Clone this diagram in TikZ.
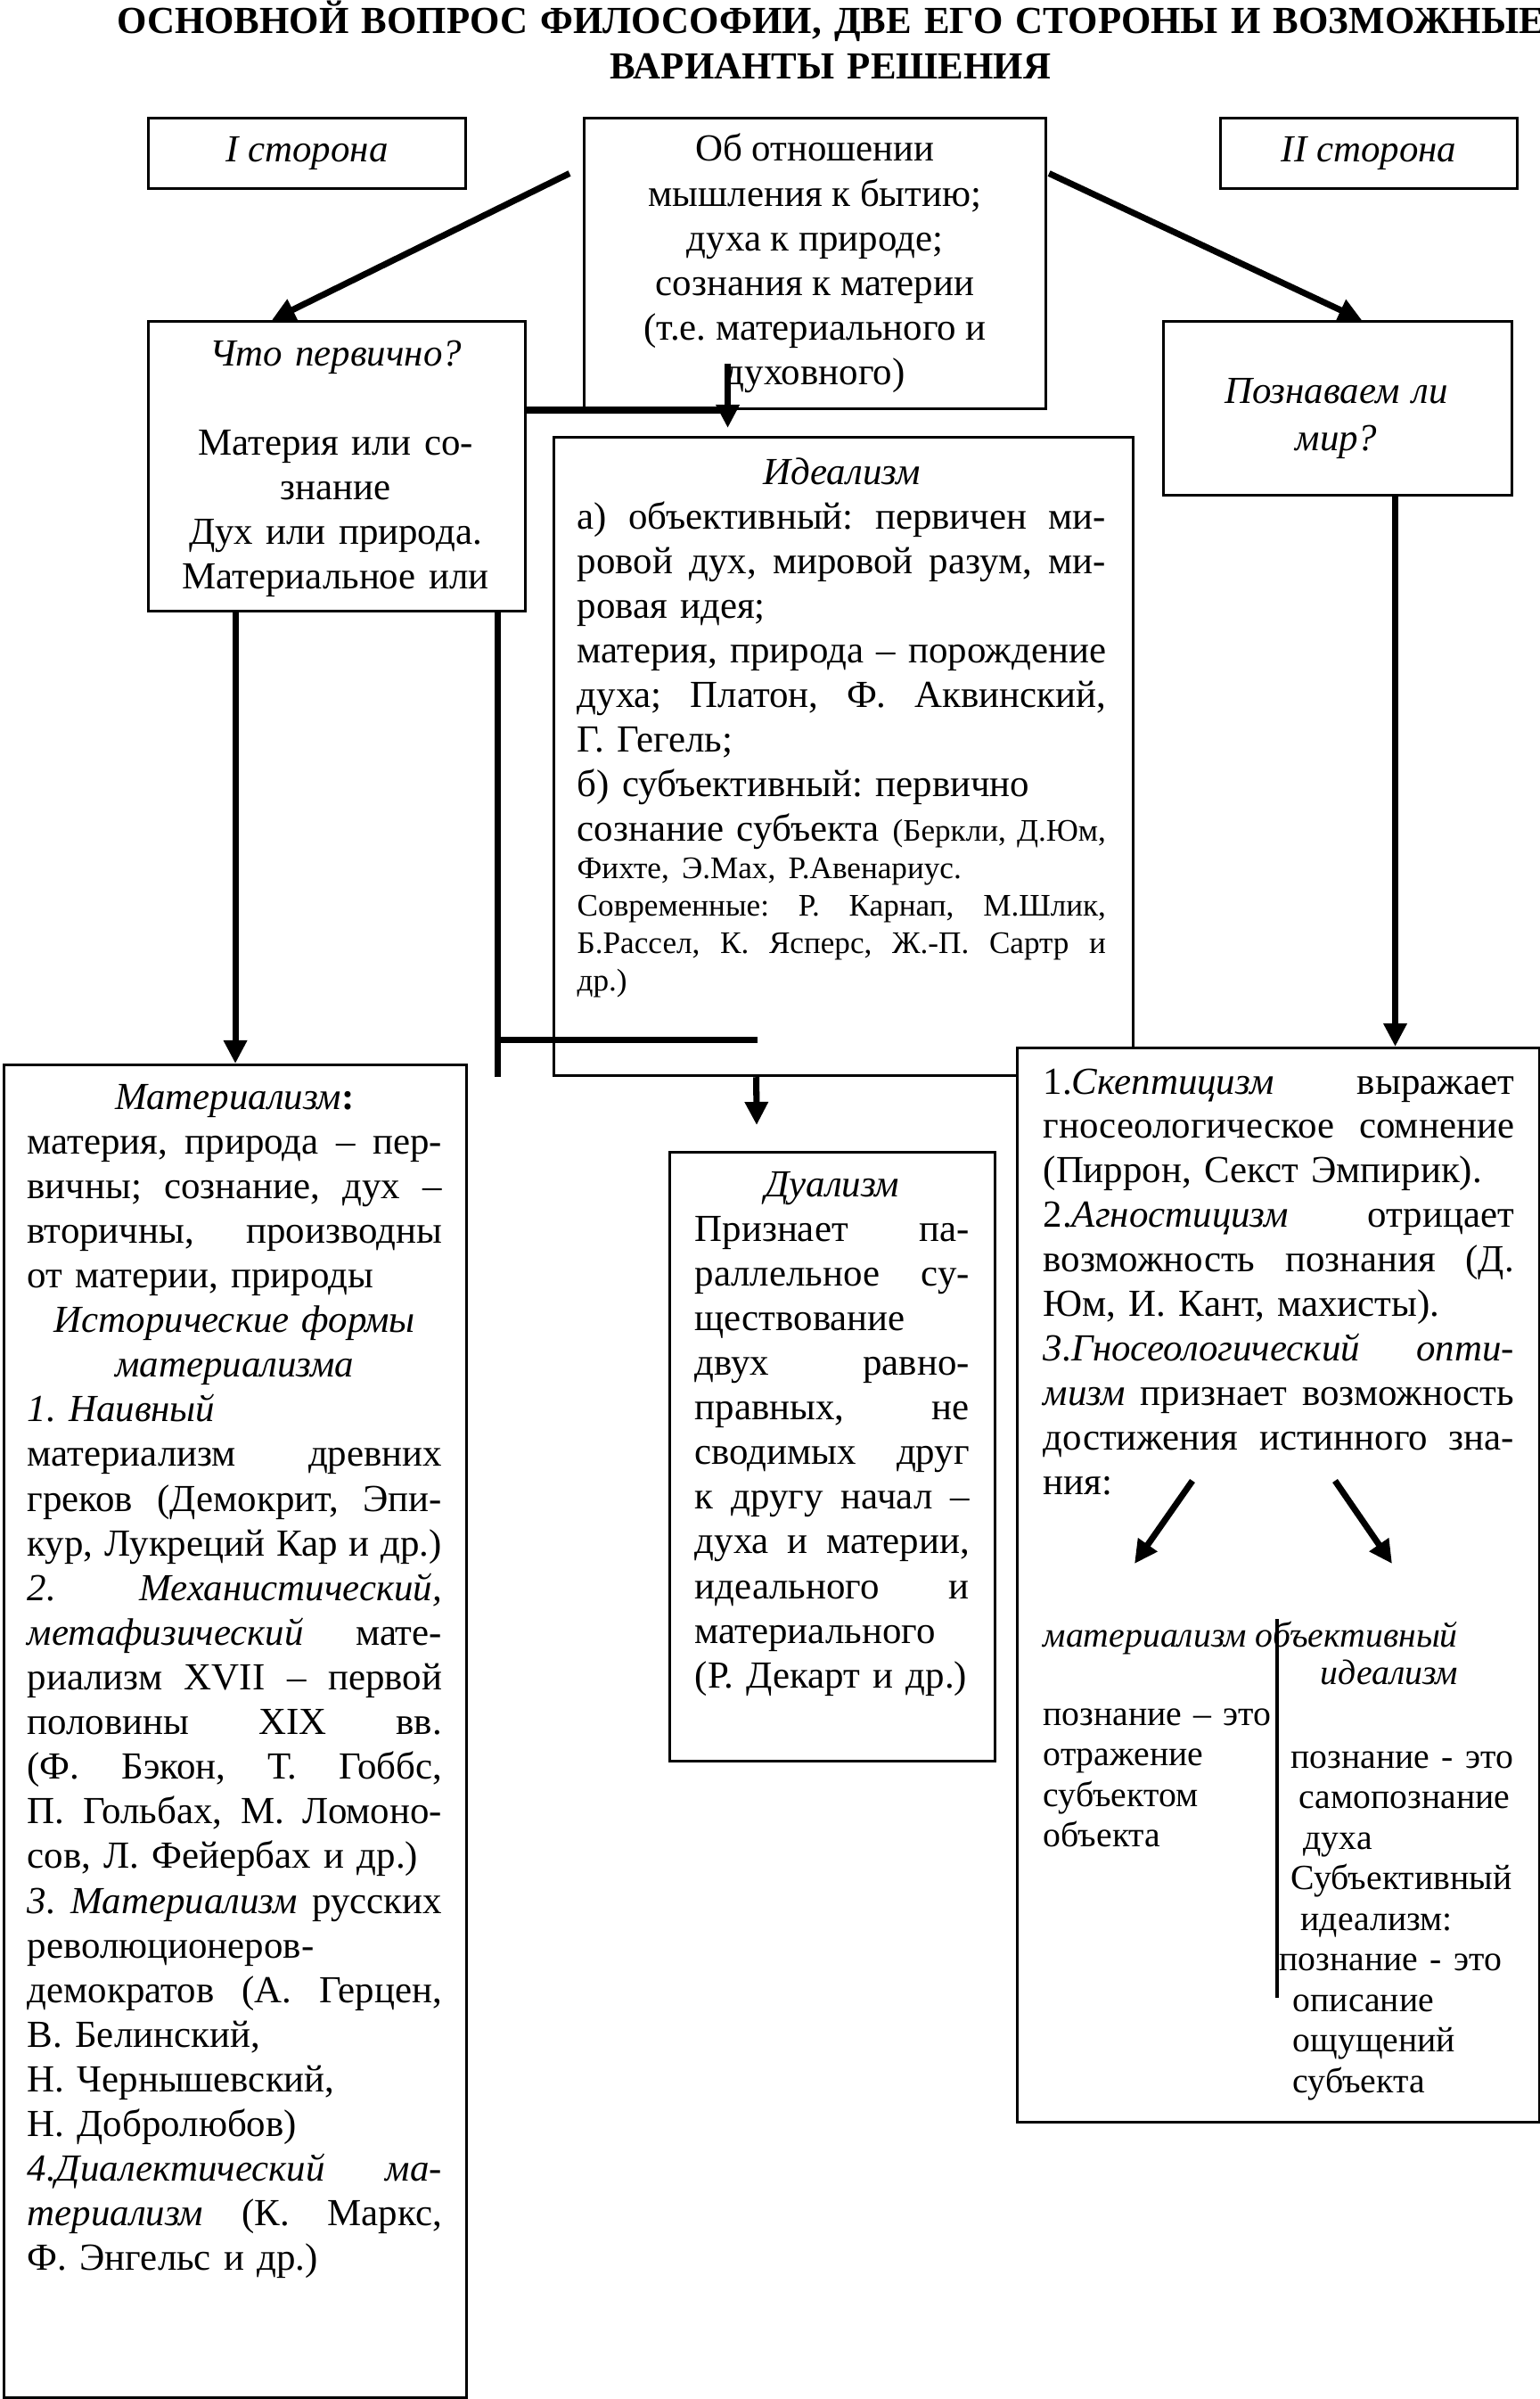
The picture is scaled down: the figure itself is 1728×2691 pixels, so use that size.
\documentclass[tikz,border=0pt]{standalone}
\usepackage{fontspec}
\setmainfont{Liberation Serif}
\usepackage{tikz}
\usetikzlibrary{arrows.meta,calc,positioning}

\newcommand{\mainsz}{\fontsize{12.2pt}{14.25pt}\selectfont}
\newcommand{\smallsz}{\fontsize{10pt}{11.9pt}\selectfont}
\newcommand{\lowsz}{\fontsize{11.3pt}{12.95pt}\selectfont}
\newcommand{\jline}[1]{\makebox[\linewidth][s]{\spaceskip=0pt\xspaceskip=0pt #1}}
\newcommand{\midline}[1]{\makebox[\linewidth]{#1}}

\begin{document}
\frenchspacing
\begin{tikzpicture}[x=0.01cm, y=-0.01cm,
  box/.style={draw, line width=0.8pt, inner sep=0pt, anchor=north west},
  txt/.style={font=\mainsz, inner sep=0pt, align=left, anchor=base west},
  word/.style={inner sep=0pt, anchor=base west},
  thickline/.style={line width=2pt},
  thickarrow/.style={line width=2pt, -{Triangle[length=0.26cm, width=0.25cm]}}]

\useasboundingbox (0,0) rectangle (1728,2691);

% Title
\node[font=\mainsz\bfseries, text width=17cm, align=center, inner sep=0pt, anchor=base] (title) at (932,38)
  {ОСНОВНОЙ ВОПРОС ФИЛОСОФИИ, ДВЕ ЕГО СТОРОНЫ И ВОЗМОЖНЫЕ\\ВАРИАНТЫ РЕШЕНИЯ};

% Draw the top row of boxes
\node[box, minimum width=3.56cm, minimum height=0.79cm, font=\mainsz\itshape] (side1) at (165,131) {I сторона};
\node[box, minimum width=5.18cm, minimum height=3.26cm, font=\mainsz, align=center] (about) at (654,131)
  {Об отношении\\мышления к бытию;\\духа к природе;\\сознания к материи\\(т.е. материального и\\духовного)};
\node[box, minimum width=3.33cm, minimum height=0.79cm, font=\mainsz\itshape] (side2) at (1368,131) {II сторона};

% Draw the two questions
\node[box, minimum width=4.23cm, minimum height=3.25cm] (primary) at (165,359) {};
\node[font=\mainsz, text width=4.1cm, align=center, inner sep=0pt, anchor=base] (primarytxt) at (376.5,410)
  {\textit{Что первично?}\\[0.5cm]Материя или со-\\знание\\Дух или природа.\\Материальное или};
\node[box, minimum width=3.91cm, minimum height=1.95cm] (knowable) at (1304,359) {};
\node[font=\mainsz\itshape, text width=3.8cm, align=center, inner sep=0pt, anchor=base] (knowtxt) at (1499.5,452)
  {Познаваем ли\\[1pt]мир?};

% Idealism
\node[box, minimum width=6.5cm, minimum height=7.16cm] (ideal) at (620,489) {};
\node[txt, text width=5.93cm] (idealtxt) at (647,543)
  {\midline{\textit{Идеализм}}\\
   \jline{а) объективный: первичен ми-}\\
   \jline{ровой дух, мировой разум, ми-}\\
   ровая идея;\\
   \jline{материя, природа – порождение}\\
   \jline{духа; Платон, Ф. Аквинский,}\\
   Г. Гегель;\\
   б) субъективный: первично\\
   \jline{сознание субъекта {\smallsz(Беркли, Д.Юм,}}\par
   {\smallsz Фихте, Э.Мах, Р.Авенариус.\\
   \jline{Современные: Р. Карнап, М.Шлик,}\\
   \jline{Б.Рассел, К. Ясперс, Ж.-П. Сартр и}\\
   др.)\par}};

% Materialism
\node[box, minimum width=5.19cm, minimum height=14.94cm] (mat) at (3,1193) {};
\node[txt, text width=4.65cm] (mattxt) at (30,1244)
  {\midline{\textit{Материализм}\textbf{:}}\\
   \jline{материя, природа – пер-}\\
   \jline{вичны; сознание, дух –}\\
   \jline{вторичны, производны}\\
   от материи, природы\\
   \midline{\textit{Исторические формы}}\\
   \midline{\textit{материализма}}\\
   \textit{1. Наивный}\\
   \jline{материализм древних}\\
   \jline{греков (Демокрит, Эпи-}\\
   \jline{кур, Лукреций Кар и др.)}\\
   \jline{\textit{2. Механистический,}}\\
   \jline{\textit{метафизический} мате-}\\
   \jline{риализм XVII – первой}\\
   \jline{половины XIX вв.}\\
   \jline{(Ф. Бэкон, Т. Гоббс,}\\
   \jline{П. Гольбах, М. Ломоно-}\\
   сов, Л. Фейербах и др.)\\
   \jline{\textit{3. Материализм} русских}\\
   революционеров-\\
   \jline{демократов (А. Герцен,}\\
   В. Белинский,\\
   Н. Чернышевский,\\
   Н. Добролюбов)\\
   \jline{\textit{4.Диалектический} \textit{ма-}}\\
   \jline{\textit{териализм} (К. Маркс,}\\
   Ф. Энгельс и др.)};

% Dualism
\node[box, minimum width=3.65cm, minimum height=6.83cm] (dual) at (750,1291) {};
\node[txt, text width=3.08cm] (dualtxt) at (779,1342)
  {\midline{\textit{Дуализм}}\\
   \jline{Признает па-}\\
   \jline{раллельное су-}\\
   ществование\\
   \jline{двух равно-}\\
   \jline{правных, не}\\
   \jline{сводимых друг}\\
   \jline{к другу начал –}\\
   \jline{духа и материи,}\\
   \jline{идеального и}\\
   материального\\
   (Р. Декарт и др.)};

% Cognition box, drawn over the corner of the idealism box
\node[box, fill=white, minimum width=5.86cm, minimum height=12.04cm] (cog) at (1140,1174) {};
\node[txt, text width=5.28cm, font=\fontsize{12.2pt}{14.2pt}\selectfont] (cogtxt) at (1170,1227)
  {\jline{1.\textit{Скептицизм} выражает}\\
   \jline{гносеологическое сомнение}\\
   (Пиррон, Секст Эмпирик).\\
   \jline{2.\textit{Агностицизм} отрицает}\\
   \jline{возможность познания (Д.}\\
   Юм, И. Кант, махисты).\\
   \jline{\textit{3.Гносеологический} \textit{опти-}}\\
   \jline{\textit{мизм} признает возможность}\\
   \jline{достижения истинного зна-}\\
   ния:};
\node[word, font=\lowsz\itshape] (cogmat) at (1170,1847) {материализм объективный};
\node[word, font=\lowsz\itshape, anchor=base east] (cogideal) at (1637,1889) {идеализм};
\node[txt, font=\lowsz, text width=2.6cm] (reflect) at (1170,1935)
  {познание – это\\отражение\\субъектом\\объекта};
\node[txt, font=\lowsz, text width=2.9cm] (selfknow) at (1435,1983)
  {\hspace*{0.13cm}познание - это\\\hspace*{0.22cm}самопознание\\\hspace*{0.27cm}духа\\
   \hspace*{0.13cm}Субъективный\\\hspace*{0.24cm}идеализм:\\познание - это\\
   \hspace*{0.15cm}описание\\\hspace*{0.15cm}ощущений\\\hspace*{0.15cm}субъекта};
% Draw the divider between the two answers
\draw[line width=0.9pt] (1433,1816) -- (1433,2241);
\coordinate (forkL) at (1338,1661);
\coordinate (forkR) at (1498,1661);
\draw[thickarrow] (forkL) -- (1273,1754);
\draw[thickarrow] (forkR) -- (1562,1754);

% Draw the arrows from the question to the two sides
\draw[thickarrow] ($(about.west)+(-15,-101)$) -- ($(primary.north)+(-73,0)$);
\draw[thickarrow] ($(about.east)+(2,-101)$) -- ($(knowable.north)+(27,0)$);

% From the first side down to idealism, materialism and dualism
\coordinate (split) at ($(about.south)+(-98,0)$);
\draw[thickline] (primary.east |- split) -- (split);
\draw[thickarrow] ($(split)+(0,-52)$) -- ($(ideal.north -| split)+(0,-9)$);
\draw[thickarrow] (primary.south -| mat.north) -- (mat.north);
\coordinate (tee) at ($(primary.south east)+(-33,0)$);
\draw[thickline] (tee) -- (tee |- ideal.south);
\draw[thickline] ($(tee |- ideal.south)+(0,-42)$) -- ($(ideal.south)+(-97,-42)$);
\draw[thickarrow] ($(ideal.south)+(-98,0)$) -- ($(dual.north)+(-85,-29)$);

% From the second side down to the answers
\coordinate (kdown) at ($(knowable.south)+(64.5,0)$);
\draw[thickarrow] (kdown) -- (kdown |- cog.north);

\end{tikzpicture}
\end{document}
